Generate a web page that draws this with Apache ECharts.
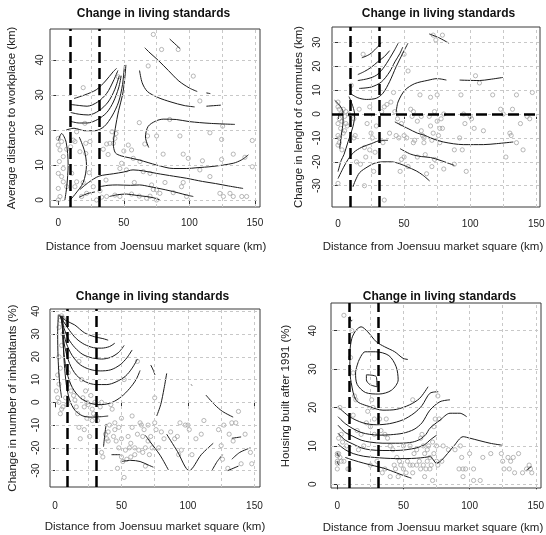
<!DOCTYPE html>
<html><head><meta charset="utf-8">
<script src="https://cdn.jsdelivr.net/npm/echarts@6/dist/echarts.min.js"></script>
<style>html,body{margin:0;padding:0;background:#fff}#c{width:546px;height:535px}</style>
</head><body><div id="c"></div>
<script>
// ---------- shared axis data ----------
const chartTitle = 'Change in living standards';
const xAxisName = 'Distance from Joensuu market square (km)';
const yAxisNames = ['Average distance to workplace (km)', 'Change in lenght of commutes (km)', 'Change in number of inhabitants (%)', 'Housing built after 1991 (%)'];
const xTicks = [0, 50, 100, 150];
const xGridLines = [25, 50, 75, 100, 125, 150];
const zoneLines = [9, 31];
const yTicks1 = [0, 10, 20, 30, 40];
const yTicks2 = [-30, -20, -10, 0, 10, 20, 30];
const yTicks3 = [-30, -20, -10, 0, 10, 20, 30, 40];
const yTicks4 = [0, 10, 20, 30, 40];
const zeroLine2 = [0];

// ---------- panel 1: Average distance to workplace ----------
const p1Points = [[72.5,47.3],[78.8,43],[91.5,43],[68.6,38.3],[19,32.1],[45.8,35.2],[103,35.4],[108,28.3],[115.7,19.2],[125.4,21.1],[124.6,17.3],[92.8,18.3],[75,18.3],[68.1,18.3],[61.8,22.1],[80,13.1],[95.3,13.1],[99.2,11.9],[110,11.2],[124.6,11.6],[133.5,13.1],[142.4,12.2],[148,17],[148,9.5],[53.4,15.7],[55.9,14.3],[42,16.2],[43.2,17.6],[39.4,16.2],[36.9,16],[57.2,11.9],[47,9],[48.3,10.5],[52,8.6],[62.3,11],[64.8,8.1],[70,7.6],[71.2,4.3],[72.5,3],[75,2.9],[77.5,1.9],[81.4,5],[87.7,2.1],[94,3.8],[95.3,5],[70,1.1],[75,0],[67.4,0.5],[61.8,1.1],[55.9,1.7],[47,1],[43.2,1.4],[36.9,1],[33,0.8],[29.2,0],[26.7,3.8],[21.6,1.9],[17.8,1],[19,5],[23.6,7.8],[21,16.2],[24.2,16.7],[16.5,13.8],[21,13.3],[9.4,15.2],[6.4,14.5],[11.4,17.1],[2.5,16.7],[0,17.6],[0,15.7],[1.3,14.3],[3.8,12.4],[0.8,11],[3.8,9],[0,7.6],[2.5,6.7],[3.8,5.2],[0,3.3],[6.4,3.8],[1.3,1],[0,0],[10.2,7.6],[12.7,3.8],[14,5.2],[36.4,5.7],[31.8,2.6],[12.7,16.7],[14,19.5],[20.3,21.9],[108,8.6],[97.9,1],[123.3,1.9],[131,1.9],[133.5,1],[140,1],[143.7,1],[34.3,14.5],[115.7,6.7],[58,5],[66,16],[85,23],[41,19.5],[44,19],[50,14],[38,13],[126,1]];
const p1Contours = [
  [[12,29],[20,30],[29,31.5],[36,34],[42,36.7],[44.5,37.6]],
  [[9.5,27.3],[16,27],[22,26.8],[30,28],[37,30.5],[42,34],[45.5,37]],
  [[9.5,25],[16,24.5],[23,24.3],[31,25.5],[38,28],[43,31.5],[46.5,35.5]],
  [[9,22.5],[16,22],[22,22],[30,23],[37,25],[42,28],[46,32],[48,35.5]],
  [[6,20],[12,20.5],[20,19.8],[28,19.8],[35,21],[41,24],[46,28],[49,33],[50.5,38.5]],
  [[0,17],[2.5,19],[6,16.5],[7.5,10],[6.5,4],[5,0]],
  [[16,18],[20,14],[21.5,10],[19,5],[12.5,1.5],[9,0]],
  [[16.5,3],[23,5],[31,6.8],[42,7.5],[50,8],[57,8.6],[65,8.3],[75,7.6],[88,6.8],[98,6.2],[110,5.3],[120,4.7],[130,4],[141,3.3]],
  [[31.5,3.8],[38,4.2],[45,4.3],[55,4.2],[62,4.3],[70,3.8],[82,2.9],[92,2],[98,1.4],[103,1]],
  [[39,1],[45,1.5],[52,1.7],[60,1.3],[67,1],[73,0.6],[77.5,0]],
  [[16,0.8],[22,1.8],[28,2.3]],
  [[51.6,38.6],[50.5,34],[49,30],[46,25.5],[43.5,20.5],[42,16],[43.5,13.5],[48,12.6],[55,12],[62,11.4],[75,10],[87.7,9],[98,9],[105,9.2],[118,9.6],[133.5,10.5],[140,11.5],[145,12.9]],
  [[69,15],[66.5,18],[68.5,21],[74,22.5],[80,23.1],[90,23],[100,22.4],[115.7,21.9],[134.8,21.6]],
  [[66,43.5],[70,42],[76,40],[84,37],[92,34],[100,32],[106,31]],
  [[113,30.6],[116,30.4]],
  [[62,37],[64,33.5],[68,31],[76,29.3],[86,28],[96,27],[104,26.6]],
  [[113,26.8],[124,27.1]],
  [[85,46],[92.8,43.3]]
];
const p1Labels = [[109.5,30.8,'0.1'],[108.5,26.8,'-0.2'],[108.5,9.3,'0.3'],[17,25.8,'0.4'],[19,21.2,'0.1'],[29,27,'0.2'],[34,6,'0.1'],[47,1.5,'0.1']];

// ---------- panel 2: Change in length of commutes ----------
const p2Points = [[0,5],[0,3],[1,2],[2,0],[1,-2],[0,-4],[3,-3],[2,-6],[4,-8],[0,-9],[1,-12],[0,-13],[3,-15],[5,-1],[6,-4],[5,-7],[0,-29],[8,0],[7,-5],[1,-10],[4,2],[6,1],[12,-2],[12,-10],[13,-9],[14,-20],[16,2],[19,25],[20,-14],[20,-30],[21,-18],[24,-15],[25,-8],[26,-10],[28,-16],[24,3],[22,-4],[17,-21],[27,-24],[29,-5],[10,12],[33,1],[34,-12],[35,3],[35,-36],[37,4],[39,-8],[40,5],[42,9],[44,-9],[43,1],[46,-10],[47,-24],[48,-19],[50,-9],[50,-18],[50,25],[52,-10],[53,18],[53,-22],[45,-2],[48,-4],[55,2],[56,-1],[57,1],[57,-12],[58,-11],[60,-3],[60,-18],[62,8],[63,-1],[63,-7],[64,-9],[65,-10],[65,-12],[66,-17],[67,-25],[70,7],[70,-5],[71,-11],[72,33],[72,-8],[74,31],[75,-3],[75,8],[76,-9],[77,-12],[77,-6],[78,-2],[79,-6],[80,0],[80,-23],[69,-1],[73,1],[73,-19],[71,-22],[79,33],[88,-15],[92,-10],[93,8],[94,-15],[95,0],[96,-4],[100,-1],[101,-2],[103,-6],[104,16],[107,13],[110,-7],[117,8],[123,2],[125,0],[127,-18],[130,-8],[131,-9],[132,2],[135,8],[135,-12],[138,-4],[140,-15],[143,-1],[145,-2],[147,9],[97,-24],[88,-21]];
const p2Contours = [
  [[18,23.5],[24,25],[29,27.5],[33,30]],
  [[15,16.5],[20,17.8],[25,19.5],[30,21.8],[35,24],[39,26.5]],
  [[15,14],[22.7,14.8],[29,16.2],[34,19],[39,23.2],[43,27],[45.5,29.6]],
  [[16,10.7],[25.2,11.3],[32.8,13.4],[39,17.6],[43,21.8],[46.7,25.2],[49,28]],
  [[9.3,8.6],[15,6.8],[21.4,6.1],[29,6.6],[34,8.7],[39,13.5],[44,19.8],[49,25.4],[52.9,29.6]],
  [[44,0.8],[45.4,5],[50.5,9.9],[58,12.7],[68,14.1],[75,14.8],[82,14.2]],
  [[92,14.2],[107,14],[115,14.5],[124.8,15.3]],
  [[43,-3.3],[53,-6.1],[60,-8],[65.6,-8.9],[70,-10],[79.7,-11.7],[94.8,-12.8],[110,-12.8],[120,-12.4],[132.6,-11.7]],
  [[0,-27],[4,-22.5],[7.6,-19],[12,-16],[17.6,-14],[25.2,-12.4],[32.8,-11],[37.8,-11]],
  [[11.3,-30.5],[13,-28],[16.4,-24.5],[22.7,-22],[28,-20.5],[34,-20],[40.3,-20],[46.6,-20.8],[52,-22],[59.2,-23.8],[64,-25.5],[69.3,-28]],
  [[47,-14.5],[55,-16.8],[63,-17.8],[70,-18.2],[78,-19.5],[88,-21.5]],
  [[-2.5,5.7],[1.3,3.6],[3.8,0.8],[3.8,-3.3],[2.5,-8.9],[1.3,-14.5]],
  [[8.3,7.3],[11.3,3.1],[12.6,-0.4],[11.3,-5.3],[7.6,-11.6],[4.5,-17],[2.5,-19.3],[0,-24.1]],
  [[69,33.5],[76,32],[84,29.6]]
];
const p2Labels = [[87,14.2,'-0.2'],[13,11,'0.2'],[26,-22.5,'-0.2'],[29,-32.5,'-0.4'],[23,20.5,'0.4'],[5,-13,'0.1']];

// ---------- panel 3: Change in number of inhabitants ----------
const p3Points = [[5,38],[6,37],[4,36],[7,36],[3,33],[8,34],[6,30],[5,25],[3,20],[4,15],[2,12],[3,8],[1,5],[2,2],[3,0],[5,-3],[6,-2],[4,-5],[8,2],[9,-1],[10,8],[12,5],[14,3],[15,1],[16,-2],[17,-5],[18,-11],[19,-16],[21,2],[22,-2],[23,5],[24,-7],[25,-1],[26,-15],[27,3],[28,-3],[29,-5],[31,-6],[32,-8],[34,-2],[35,-22],[36,-24],[35,0],[38,-14],[39,-16],[40,-17],[40,-13],[41,-10],[42,-1],[43,-3],[44,-15],[45,-12],[45,-9],[46,-17],[47,-29],[48,-20],[48,-11],[50,-24],[50,-16],[50,-7],[51,-26],[52,-33],[53,-21],[54,-25],[55,-15],[56,-20],[57,-18],[57,-24],[58,-11],[58,-6],[60,-20],[60,-23],[62,-14],[63,-21],[64,-9],[65,-10],[66,-15],[66,-22],[67,-12],[68,-20],[68,-28],[70,-17],[70,-10],[71,-23],[72,-15],[73,-20],[75,-9],[75,2],[76,-12],[78,-20],[80,-13],[82,-16],[87,-13],[90,-16],[92,-15],[93,-23],[94,-9],[95,-21],[98,-10],[100,-10],[101,-12],[103,-23],[106,-16],[110,-14],[112,-8],[123,-12],[125,-19],[126,-25],[127,-10],[130,-29],[131,-14],[133,-9],[134,-17],[136,-9],[138,-4],[140,-27],[143,-14],[147,-22],[148,-27],[18,18],[20,10],[24,0],[28,-8],[30,0],[22,-12],[10,13],[62,18],[52,10]];
const p3Contours = [
  [[3,38.5],[8,36],[14.8,34],[22.3,30.5],[29.9,28.8],[36,28],[40,27.3]],
  [[3.5,38],[7,35],[11,31.5],[16,28],[22,25.5],[29,24],[35,23.8],[41,24.5],[45,26]],
  [[4,38],[6.5,33],[10,28],[15,24],[21,21],[28,19.5],[35,19],[42,19.8],[48,22],[52,25]],
  [[4.5,38],[6,32],[8.5,26],[13,20.5],[19,16.5],[26,14.5],[34,13.8],[42,14.3],[49,16.5],[54,19.5],[58,23]],
  [[5,38],[5.8,31],[7.5,24],[11,17],[16,12],[23,9],[31,7.8],[39,7.8],[46,9],[53,11.5],[58,15],[62,19]],
  [[5.5,38],[5.8,29],[6.8,21],[9,13],[13,6.5],[19,2],[27,-0.5],[35,-1],[43,0],[50,2.5],[56,6],[61,10],[64,14]],
  [[6,38],[6.2,27],[7,17],[8.5,8],[11,1],[15,-3.5],[21,-6],[28,-6.5],[35,-6.3],[40,-6]],
  [[2.5,38.5],[2,30],[2.3,20],[3,12],[4,6],[5,2]],
  [[38.5,-9.5],[37.5,-14],[36.5,-19.5]],
  [[72,16.4],[74,14],[75.2,12]],
  [[84,12.7],[82,6],[79.5,-1],[76.5,-6]],
  [[113.5,3.2],[120,-1],[126,-4],[134,-6.5]],
  [[133,-15.8],[140,-15.2]],
  [[133,-25],[139,-22],[147,-20]],
  [[130,-30],[138,-28]],
  [[118,-30],[122,-26],[126,-23]],
  [[84,-14],[92,-21.5],[101,-30],[110,-23],[119,-18]],
  [[102.5,7.8],[103,7.4]],
  [[42.5,-23],[49,-23]],
  [[50,-26],[57,-25.5],[64,-26],[70,-27.5],[74,-28.5]],
  [[68,-14.5],[71.5,-17.3],[79,-23.2],[85.3,-29.7]]
];
const p3Labels = [[30,21.5,'0.3'],[20,25.5,'0.2'],[44,2.5,'0.1'],[44,-6.3,'0.2'],[127,-14,'0.3'],[134,-9.2,'0.4'],[131,-22,'0.2'],[22,-12,'0.4']];

// ---------- panel 4: Housing built after 1991 ----------
const p4Points = [[5,44],[0,8],[0,7.5],[0,6],[0,5.5],[0,4],[1,8],[2,7],[3,6],[5,6],[1,12],[3,13],[4,11],[2,20],[7,10],[8,4],[10,33],[11,40],[12,29],[13,23],[14,22],[15,14],[18,13],[20,10],[22,16],[23,19],[25,15],[26,22],[27,20],[28,17],[25,5],[30,6],[32,17],[34,3],[36,4],[36,13],[37,17],[38,12],[40,10],[40,2],[42,9],[43,5],[44,4],[45,7],[46,2],[47,6],[48,5],[50,4],[50,10],[52,3],[53,6],[55,5],[55,10],[57,5],[57,3],[58,8],[60,9],[60,5],[62,6],[63,4],[63,12],[64,13],[65,10],[65,5],[66,8],[67,4],[68,9],[68,6],[69,10],[70,7],[70,4],[71,5],[72,11],[72,1],[73,8],[73,15],[74,17],[75,6],[75,10],[76,5],[77,17],[79,6],[80,10],[84,9],[89,9],[92,4],[93,10],[94,7],[95,4],[95,2],[97,4],[100,8],[103,4],[103,1],[108,1],[110,7],[116,8],[124,8],[125,6],[126,4],[129,7],[130,4],[131,6],[133,7],[134,3],[137,8],[140,3],[143,4],[145,5],[146,4],[147,3],[76,23],[57,22],[33,14],[66,2],[28,13],[16,9],[12,18],[9,4]];
const p4Contours = [
  [[22,28.5],[29.5,28],[30,25.4],[24.5,26],[22,27.2],[22,28.5]],
  [[16,32],[21,34.5],[29,34.5],[39,33.5],[44.5,30.6],[46,27.2],[41,24.5],[31.5,23.5],[21.3,23.9],[15,26],[13.8,29],[16,32]],
  [[53.4,32.5],[49.7,32.8],[43.4,34.5],[35.8,35.8],[29.5,37.1],[23,39.7],[18,41],[14.4,40.2],[11,38],[9.5,34],[9.5,30],[10.5,26.5],[14.4,21.8],[24.5,20.2],[34.5,19.3],[44.6,19.5],[54.7,20.7],[62.3,22.4],[68.6,25.4]],
  [[0.5,20.2],[9.3,17.6],[19.4,16],[29.5,15.5],[39.6,15.8],[49.7,16.8],[58,18.5],[64,20.5],[70,23.7],[76.3,24.1]],
  [[0.5,17.6],[6,15.8],[11.8,14.5],[18,13.5],[24.5,13],[32,12.8],[40,12.9],[49.7,13.3],[58,14.3],[64,16],[70,19.3],[77.6,21.5],[85.2,22]],
  [[0.5,15.4],[6,13.5],[11.8,12.5],[18,11.5],[24.5,11],[34.5,10.7],[47,10.7],[57,11],[63,11.8],[67,13],[70,14.6],[77.6,16.7],[85.2,18.5],[92.7,18.5],[97.8,17.6]],
  [[0.5,13.3],[6,11.5],[11.8,10.5],[18,9.5],[24.5,9],[34.5,8.8],[44,8.8],[52,9],[60,9.5],[66,10.3],[70,11.5],[75.1,12.8]],
  [[0.5,10.5],[6,9],[12,8],[20,7.3],[28,7],[36,6.8],[44,6.7],[52,6.7],[60,6.8],[66,7],[70,7.2],[75.1,5.5],[78.9,6.3],[87.7,9.8],[95.2,12.4],[100.3,12],[115.4,10.7],[124.3,10.2]],
  [[6,7],[12,6.3],[20,5.5],[28,4.8],[35,4.2],[40,3.6],[44.6,3],[50,2.3],[56,1.6]],
  [[0,8.2],[0.5,7.6],[1.5,7.2]],
  [[0,6],[0.6,5.3],[1.5,5]],
  [[143,3.7],[146.7,4.6]],
  [[9.5,43.8],[10.5,42.5],[11.5,42.8]]
];
const p4Labels = [[38,35.6,'0.1'],[47,29,'0.2'],[26,21.5,'0.3'],[29,17.3,'0.1'],[41,10.8,'0.3']];

// ---------- build ----------
const panels = [
  {left:50, top:29, w:210, h:178, xmin:-6.33, xmax:153.9, ymin:-2, ymax:48.86, yTicks:yTicks1, pts:p1Points, cts:p1Contours, lbl:p1Labels, hDash:[], xm:11, ym:5, tx:153.5, ty:13.5, xnx:156, xny:247, ynx:12, yny:118},
  {left:332, top:27, w:208, h:180, xmin:-4.54, xmax:152.8, ymin:-38.9, ymax:36.4, yTicks:yTicks2, pts:p2Points, cts:p2Contours, lbl:p2Labels, hDash:zeroLine2, xm:12.5, ym:9.5, tx:438.5, ty:14, xnx:433, xny:247, ynx:299, yny:117},
  {left:50, top:309, w:210, h:178, xmin:-3.76, xmax:154.2, ymin:-37.2, ymax:41.0, yTicks:yTicks3, pts:p3Points, cts:p3Contours, lbl:p3Labels, hDash:[], xm:14, ym:9, tx:152.5, ty:297, xnx:155, xny:526.5, ynx:12.5, yny:398},
  {left:331, top:303, w:210, h:185, xmin:-4.76, xmax:153.96, ymin:-0.96, ymax:47.2, yTicks:yTicks4, pts:p4Points, cts:p4Contours, lbl:p4Labels, hDash:[], xm:13, ym:13, tx:439.5, ty:297, xnx:433, xny:528, ynx:286, yny:396}
];
const FONT = '"Liberation Sans", Arial, sans-serif';
const grid = [], xAxis = [], yAxis = [], series = [], graphic = [];
panels.forEach((p, i) => {
  grid.push({left:p.left, top:p.top, width:p.w, height:p.h, show:true, borderColor:'#3a3a3a', borderWidth:1, backgroundColor:'rgba(0,0,0,0)', containLabel:false, outerBoundsMode:'none'});
  xAxis.push({type:'value', gridIndex:i, min:p.xmin, max:p.xmax,
    axisLine:{show:false}, splitLine:{show:false},
    axisTick:{show:true, inside:false, length:5, customValues:xTicks, lineStyle:{color:'#333', width:1}},
    axisLabel:{customValues:xTicks, fontSize:10, color:'#222', margin:p.xm, fontFamily:FONT}});
  yAxis.push({type:'value', gridIndex:i, min:p.ymin, max:p.ymax,
    axisLine:{show:false}, splitLine:{show:false},
    axisTick:{show:true, inside:false, length:5, customValues:p.yTicks, lineStyle:{color:'#333', width:1}},
    axisLabel:{customValues:p.yTicks, fontSize:10, color:'#222', margin:p.ym, rotate:90, fontFamily:FONT}});
  // reference grid (light dashed)
  series.push({type:'line', xAxisIndex:i, yAxisIndex:i, data:[], silent:true, z:1,
    markLine:{silent:true, symbol:['none','none'], animation:false, label:{show:false},
      lineStyle:{color:'#c8c8c8', type:[3,3], width:1},
      data: xGridLines.map(v => ({xAxis:v})).concat(p.yTicks.map(v => ({yAxis:v})))}});
  // points
  series.push({type:'scatter', xAxisIndex:i, yAxisIndex:i, data:p.pts, symbol:'circle', symbolSize:4.2, silent:true, z:2,
    itemStyle:{color:'rgba(0,0,0,0)', borderColor:'#9c9c9c', borderWidth:0.9}});
  // contours
  p.cts.forEach(c => series.push({type:'line', xAxisIndex:i, yAxisIndex:i, data:c, showSymbol:false, smooth:0.3, silent:true, z:3,
    lineStyle:{color:'#1a1a1a', width:1}}));
  // contour labels
  series.push({type:'scatter', xAxisIndex:i, yAxisIndex:i, data:p.lbl.map(d => ({value:[d[0], d[1]], txt:d[2]})), symbolSize:1, silent:true, z:4,
    itemStyle:{opacity:0},
    label:{show:true, position:'inside', formatter: q => q.data.txt, fontSize:8, color:'#a0a0a0', fontFamily:FONT}});
  // thick dashed reference lines
  series.push({type:'line', xAxisIndex:i, yAxisIndex:i, data:[], silent:true, z:5,
    markLine:{silent:true, symbol:['none','none'], animation:false, label:{show:false},
      lineStyle:{color:'#000', type:[11,5], width:2.5},
      data: zoneLines.map(v => ({xAxis:v})).concat(p.hDash.map(v => ({yAxis:v})))}});
  graphic.push({type:'text', x:p.tx, y:p.ty, silent:true, style:{text:chartTitle, font:'bold 12px ' + FONT, fill:'#111', align:'center', verticalAlign:'middle'}});
  graphic.push({type:'text', x:p.xnx, y:p.xny, silent:true, style:{text:xAxisName, font:'11.5px ' + FONT, fill:'#222', align:'center', verticalAlign:'middle'}});
  graphic.push({type:'text', x:p.ynx, y:p.yny, rotation:Math.PI/2, silent:true, style:{text:yAxisNames[i], font:'11.5px ' + FONT, fill:'#222', align:'center', verticalAlign:'middle'}});
});
const chart = echarts.init(document.getElementById('c'), null, {renderer:'canvas'});
chart.setOption({animation:false, backgroundColor:'#fff', grid, xAxis, yAxis, series, graphic});
</script></body></html>
